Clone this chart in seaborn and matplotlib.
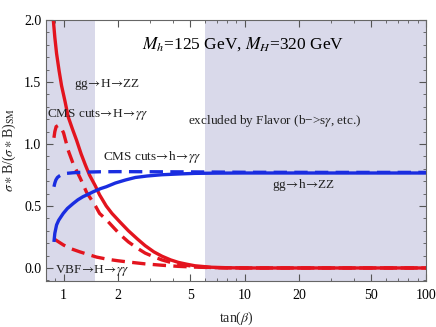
import numpy as np
import pandas as pd
import matplotlib
matplotlib.use("Agg")
import matplotlib.pyplot as plt
import seaborn as sns
from matplotlib.ticker import FixedLocator, NullFormatter

# ---- data ----
tan_ggHZZ = [0.878, 0.895, 0.915, 0.945, 0.975, 1.02, 1.06, 1.12, 1.18, 1.25, 1.32, 1.39, 1.5, 1.58, 1.72, 1.85, 2.05, 2.28, 2.55, 2.82, 3.15, 3.49, 3.9, 4.3, 4.8, 5.3, 6.5, 8.0, 10, 30, 100]
val_ggHZZ = [2.0, 1.86, 1.73, 1.59, 1.47, 1.34, 1.22, 1.12, 1.03, 0.92, 0.83, 0.75, 0.66, 0.59, 0.50, 0.44, 0.37, 0.30, 0.235, 0.18, 0.13, 0.095, 0.065, 0.045, 0.03, 0.018, 0.006, 0.002, 0.0, 0.0, 0.0]

tan_cmsH = [0.885, 0.895, 0.91, 0.935, 0.97, 1.0, 1.03, 1.06, 1.13, 1.24, 1.34, 1.5, 1.58, 1.72, 1.85, 2.05, 2.28, 2.55, 2.82, 3.15, 3.49, 3.9, 4.3, 5.3, 6.5, 8.0, 10, 30, 100]
val_cmsH = [1.05, 1.10, 1.14, 1.15, 1.13, 1.09, 1.02, 0.95, 0.84, 0.72, 0.61, 0.50, 0.44, 0.39, 0.34, 0.27, 0.21, 0.16, 0.12, 0.09, 0.065, 0.045, 0.03, 0.012, 0.004, 0.001, 0.0, 0.0, 0.0]

tan_vbfH = [0.885, 0.94, 1.0, 1.1, 1.23, 1.36, 1.52, 1.75, 2.0, 2.28, 2.82, 3.49, 4.3, 5.3, 6.5, 10, 30, 100]
val_vbfH = [0.235, 0.21, 0.185, 0.155, 0.13, 0.11, 0.088, 0.07, 0.058, 0.048, 0.033, 0.022, 0.013, 0.007, 0.003, 0.0, 0.0, 0.0]

tan_gghZZ = [0.885, 0.895, 0.915, 0.94, 0.97, 0.996, 1.05, 1.13, 1.2, 1.28, 1.37, 1.46, 1.6, 1.72, 1.93, 2.2, 2.49, 2.9, 3.49, 4.3, 5.3, 7.0, 10, 30, 100]
val_gghZZ = [0.21, 0.28, 0.347, 0.385, 0.415, 0.44, 0.48, 0.52, 0.55, 0.575, 0.595, 0.615, 0.64, 0.655, 0.685, 0.71, 0.73, 0.742, 0.752, 0.758, 0.763, 0.765, 0.766, 0.766, 0.766]

tan_cmsh = [0.885, 0.895, 0.907, 0.925, 0.95, 0.975, 1.02, 1.13, 1.3, 1.6, 2.0, 5.0, 10, 30, 100]
val_cmsh = [0.655, 0.685, 0.71, 0.73, 0.743, 0.752, 0.762, 0.768, 0.773, 0.776, 0.777, 0.775, 0.772, 0.771, 0.771]

excluded_low = [0.8, 1.5]
excluded_high = [6.0, 100]

xticks = [1, 2, 5, 10, 20, 50, 100]
yticks = [0.0, 0.5, 1.0, 1.5, 2.0]

# ---- style ----
sns.set_style("ticks")
plt.rcParams["font.family"] = ["Liberation Serif", "DejaVu Serif"]
plt.rcParams["mathtext.fontset"] = "stix"

RED = "#e3141e"
BLUE = "#1a2de0"
SHADE = "#d9d9ea"

fig = plt.figure(figsize=(4.36, 3.27), dpi=100)
ax = fig.add_axes([0.1055, 0.1407, 0.8715, 0.7981])

ax.axvspan(*excluded_low, color=SHADE, lw=0, zorder=0)
ax.axvspan(*excluded_high, color=SHADE, lw=0, zorder=0)

lw = 2.4
dash = (0, (4, 2.2))
common = dict(ax=ax, lw=lw, sort=False, solid_joinstyle="round", solid_capstyle="butt")
sns.lineplot(x=tan_ggHZZ, y=val_ggHZZ, color=RED, **common)
sns.lineplot(x=tan_cmsH, y=val_cmsH, color=RED, linestyle=dash, **common)
sns.lineplot(x=tan_vbfH, y=val_vbfH, color=RED, linestyle=dash, **common)
sns.lineplot(x=tan_gghZZ, y=val_gghZZ, color=BLUE, **common)
sns.lineplot(x=tan_cmsh, y=val_cmsh, color=BLUE, linestyle=dash, **common)

ax.set_xscale("log")
ax.set_xlim(0.8, 100)
ax.set_ylim(-0.105, 2.0)

ax.xaxis.set_major_locator(FixedLocator(xticks))
ax.set_xticklabels([str(t) for t in xticks])
minor_x = [0.8, 0.9] + [3, 4] + [6, 7, 8, 9] + [30, 40] + [60, 70, 80, 90]
ax.xaxis.set_minor_locator(FixedLocator(minor_x))
ax.xaxis.set_minor_formatter(NullFormatter())
ax.yaxis.set_major_locator(FixedLocator(yticks))
ax.set_yticklabels(["0.0", "0.5", "1.0", "1.5", "2.0"])
ax.yaxis.set_minor_locator(FixedLocator([i / 10 for i in range(-1, 21)]))

ax.tick_params(which="both", direction="in", top=True, right=True, colors="#555555", labelcolor="black", labelsize=10)
ax.tick_params(which="major", length=5, width=0.8)
ax.tick_params(which="minor", length=2.5, width=0.6)
ax.tick_params(axis="x", which="both", pad=6)
for s in ax.spines.values():
    s.set_color("#666666")
    s.set_linewidth(0.8)

ax.set_xlabel(r"tan($\beta$)", fontsize=10, labelpad=5)
ax.set_ylabel(r"$\sigma\ast$B/($\sigma\ast$B)$_{\rm SM}$", fontsize=10, labelpad=4)

tk = dict(transform=fig.transFigure, fontsize=9.5, color="#222222", va="center")
def fx(px):
    return px / 436
def fy(py):
    return 1 - py / 327

A = r"$\!\rightarrow\!$"
fig.text(fx(142), fy(44), r"$M_h$=125 GeV, $M_H$=320 GeV", fontsize=12.5, va="center", color="black")
fig.text(fx(74), fy(84), "gg" + A + "H" + A + "ZZ", **tk)
fig.text(fx(47), fy(115), "CMS cuts" + A + "H" + A + r"$\gamma\gamma$", **tk)
fig.text(fx(188), fy(121), r"excluded by Flavor (b−>s$\gamma$, etc.)", **tk)
fig.text(fx(103), fy(157), "CMS cuts" + A + "h" + A + r"$\gamma\gamma$", **tk)
fig.text(fx(272), fy(185), "gg" + A + "h" + A + "ZZ", **tk)
fig.text(fx(55), fy(270), "VBF" + A + "H" + A + r"$\gamma\gamma$", **tk)

fig.savefig("out.png", dpi=100)
